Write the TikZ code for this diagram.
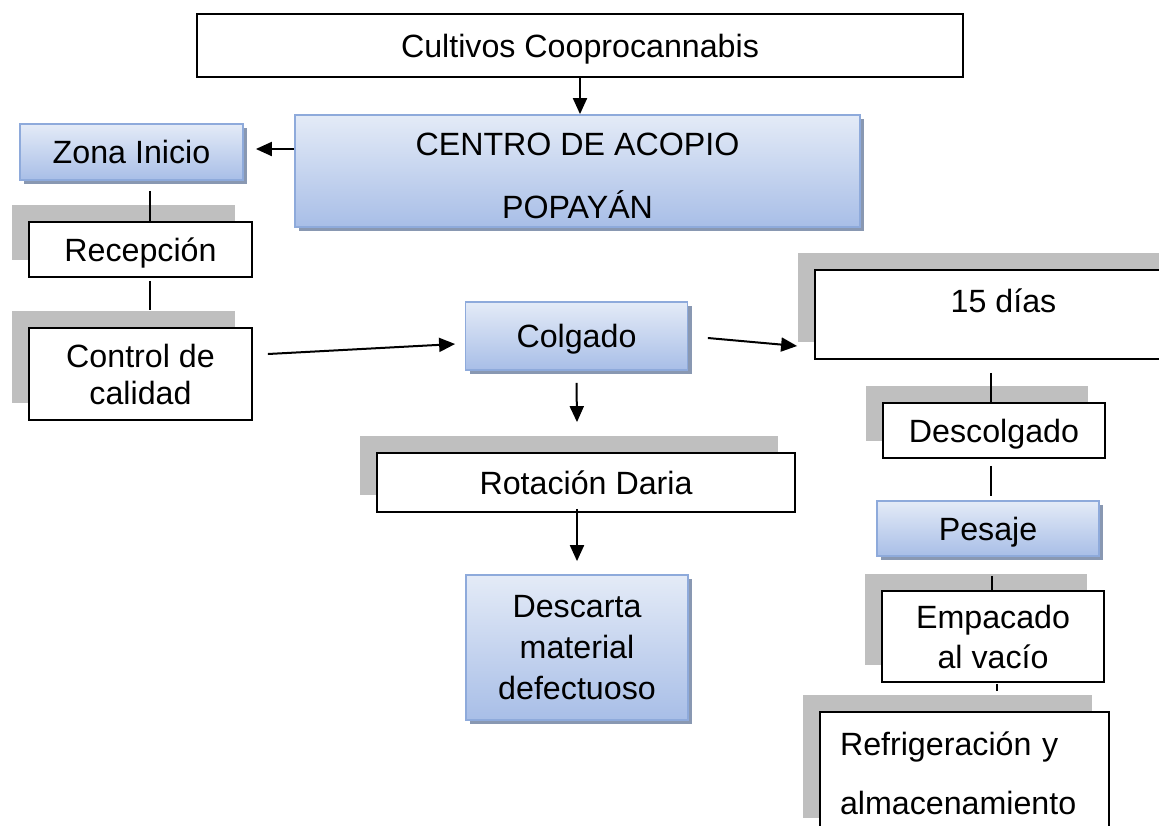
\documentclass[tikz,border=0pt]{standalone}
\usepackage{fontspec}
\setmainfont{Liberation Sans}
\usetikzlibrary{arrows.meta,shadows}

\definecolor{shadowgray}{RGB}{191,191,191}
\definecolor{blueedge}{RGB}{142,170,219}
\definecolor{bluetop}{RGB}{228,235,247}
\definecolor{bluebot}{RGB}{168,190,231}
\definecolor{blueshadow}{RGB}{137,152,178}

\begin{document}
\begin{tikzpicture}[x=0.5pt, y=-0.5pt,
	font=\fontsize{16.1}{18.5}\selectfont,
	plainbox/.style={draw, line width=0.9pt, fill=white, align=center, inner sep=0pt, text depth=0pt},
	whitebox/.style={plainbox, general shadow={fill=shadowgray, shadow xshift=-8.5pt, shadow yshift=8.5pt}},
	bluebox/.style={draw=blueedge, line width=0.9pt, top color=bluetop, bottom color=bluebot, align=center, inner sep=0pt, text depth=0pt,
		general shadow={fill=blueshadow, shadow xshift=2pt, shadow yshift=-2pt}},
	arrow/.style={-{Triangle[length=8pt, width=7pt]}, line width=1pt},
	link/.style={line width=0.9pt}]

	\useasboundingbox (0,0) rectangle (1159,825);
	\clip (0,0) rectangle (1159,825);

	% Top of the chart

	\node[plainbox, minimum width=383pt, minimum height=31.5pt] (cult) at (580,45.5) {Cultivos Cooprocannabis};
	\node[bluebox, minimum width=282.5pt, minimum height=56pt, text height=47pt] (centro) at (577.5,171) {CENTRO DE ACOPIO\\[13pt]POPAYÁN};

	% Left column
	\node[bluebox, minimum width=111.5pt, minimum height=28pt] (zona) at (131.5,152) {Zona Inicio};
	\node[whitebox, minimum width=111.5pt, minimum height=27.5pt] (recep) at (140.5,249.5) {Recepción};
	\node[whitebox, minimum width=111.5pt, minimum height=46pt] (control) at (140.5,374) {Control de\\calidad};

	% Middle column
	\node[bluebox, minimum width=111pt, minimum height=34pt] (colgado) at (576.5,336) {Colgado};
	\node[whitebox, minimum width=209pt, minimum height=29.5pt] (rot) at (586,482.5) {Rotación Daria};
	\node[bluebox, minimum width=111pt, minimum height=72.5pt] (desc) at (577,647.5) {Descarta\\[2pt]material\\[2pt]defectuoso};

	% Right column
	\node[whitebox, minimum width=188.5pt, minimum height=44.5pt, text depth=14pt] (dias) at (1003.5,314.5) {15 días};
	\node[whitebox, minimum width=111pt, minimum height=27.5pt] (descol) at (994,430.5) {Descolgado};
	\node[bluebox, minimum width=111pt, minimum height=27.5pt] (pesaje) at (988,528.5) {Pesaje};
	\node[whitebox, minimum width=111pt, minimum height=45.5pt] (empac) at (993,636.5) {Empacado\\[1.5pt]al vacío};
	\node[whitebox, minimum height=61.5pt, inner xsep=10pt, text width=124.5pt, align=left, text depth=] (refrig) at (964.5,773.5) {Refrigeración y\\[11pt]almacenamiento};

	% Arrows
	\draw[arrow] (cult.south) -- (cult.south |- centro.north);
	\draw[arrow] ([yshift=11pt]centro.west) -- ([shift={(12,-3)}]zona.east);
	\draw[arrow] ([shift={(15,-20)}]control.east) -- ([shift={(-9.5,8)}]colgado.west);
	\draw[arrow] ([shift={(19.5,2)}]colgado.east) -- ([shift={(-17,31.5)}]dias.west);
	\draw[arrow] ([shift={(0,12)}]colgado.south) -- ([shift={(-9,-30)}]rot.north);
	\draw[arrow] ([shift={(-9,-4)}]rot.south) -- ([shift={(0,-13)}]desc.north);

	% Plain links
	\draw[link] ([shift={(18.5,10)}]zona.south) -- ([shift={(9.5,0)}]recep.north);
	\draw[link] ([shift={(9.5,3)}]recep.south) -- ([shift={(9.5,-17)}]control.north);
	\draw[link] ([shift={(-12.5,13)}]dias.south) -- ([shift={(-3,0)}]descol.north);
	\draw[link] ([shift={(-3,7)}]descol.south) -- ([shift={(3,-4)}]pesaje.north);
	\draw[link] ([shift={(4,19)}]pesaje.south) -- ([shift={(-1,0)}]empac.north);
	\draw[link] ([shift={(4,1)}]empac.south) -- ([shift={(32.5,-20)}]refrig.north);
\end{tikzpicture}
\end{document}
